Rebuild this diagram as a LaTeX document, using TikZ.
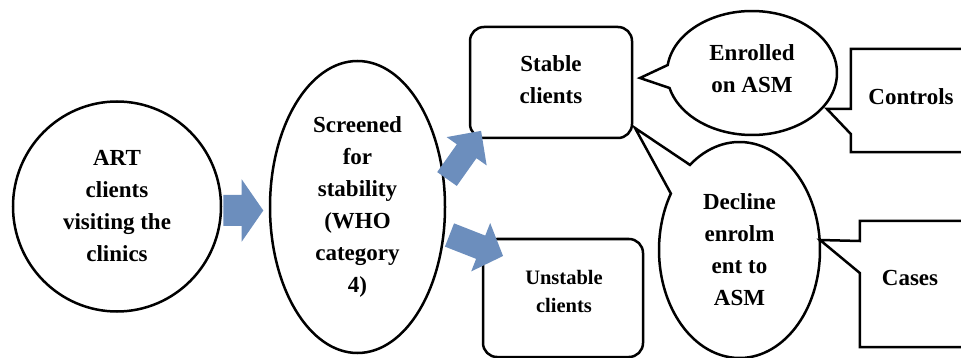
\documentclass[tikz,border=0pt]{standalone}
\usepackage{fontspec}
\setmainfont{Liberation Serif}
\usetikzlibrary{shapes.geometric,calc}
\definecolor{arrowfill}{RGB}{108,142,189}
\tikzset{
  txt/.style={font=\fontsize{23}{32}\selectfont\bfseries, align=center, inner sep=0pt},
  smalltxt/.style={font=\fontsize{20.5}{28}\selectfont\bfseries, align=center, inner sep=0pt},
  outl/.style={draw=black, line width=2.5pt, fill=white, line join=miter},
  ell/.style={outl, ellipse, inner sep=0pt},
  rbox/.style={outl, rectangle, rounded corners=14pt, inner sep=0pt},
  plainbox/.style={rectangle, inner sep=0pt},
}
% x, y, angle, length, shaft width, head length, head width
\newcommand{\blockarrow}[7]{%
  \fill[arrowfill, shift={(#1,#2)}, rotate=#3]
    (0,{-#5/2}) -- ({#4-#6},{-#5/2}) -- ({#4-#6},{-#7/2}) -- (#4,0)
    -- ({#4-#6},{#7/2}) -- ({#4-#6},{#5/2}) -- (0,{#5/2}) -- cycle;}
\begin{document}
\begin{tikzpicture}[x=1pt,y=-1pt]
\useasboundingbox (0,0) rectangle (961,358);

% ART circle
\node[ell, txt, minimum width=208pt, minimum height=210pt] (art) at (117,206.5)
  {ART\\clients\\visiting the\\clinics};

% Screened ellipse
\node[ell, txt, minimum width=175pt, minimum height=292pt] (scr) at (357.5,207)
  {Screened\\for\\stability\\(WHO\\category\\4)};

% Stable clients box
\node[rbox, minimum width=162pt, minimum height=111pt] (stable) at (551,82.5) {};
\node[txt] (stablet) at (551,80) {Stable\\clients};

% Unstable clients box
\node[rbox, minimum width=160pt, minimum height=118pt] (unstable) at (563,298) {};
\node[smalltxt] (unstablet) at (564,291) {Unstable\\clients};

% Enrolled on ASM bubble
\coordinate (enr) at (752,73);
\coordinate (enrtip) at (640,78);
\draw[outl] ($(enr)+(172.6:85pt and 62pt)$)
  arc[start angle=172.6, end angle=-166, x radius=85pt, y radius=62pt]
  -- (enrtip) -- cycle;
\node[txt] (enrt) at (752,69) {Enrolled\\on ASM};

% Decline bubble
\coordinate (dec) at (739.5,250);
\coordinate (dectip) at (635,128);
\draw[outl] ($(dec)+(128:80.5pt and 108pt)$)
  arc[start angle=128, end angle=-211.5, x radius=80.5pt, y radius=108pt]
  -- (dectip) -- cycle;
\node[txt] (dect) at (739.5,249.5) {Decline\\enrolm\\ent to\\ASM};

% Controls callout
\node[plainbox, minimum width=124pt, minimum height=103pt] (ctrl) at (913,100.5) {};
\coordinate (ctrltip) at (827,109);
\draw[outl] (ctrl.north west) -- (ctrl.north east) -- (ctrl.south east)
  -- (ctrl.south west) -- (ctrl.west |- 0,134) -- (ctrltip)
  -- (ctrl.west |- 0,109) -- cycle;
\node[txt] (ctrlt) at (911,97) {Controls};

% Cases callout
\node[plainbox, minimum width=108pt, minimum height=126pt] (cases) at (914,284) {};
\coordinate (casestip) at (820,240);
\draw[outl] (cases.north west) -- (cases.north east) -- (cases.south east)
  -- (cases.south west) -- (cases.west |- 0,273) -- (casestip)
  -- (cases.west |- 0,241) -- cycle;
\node[txt] (casest) at (910,278) {Cases};

% block arrows
\blockarrow{223.3}{210.5}{0}{40}{31}{21.6}{62.4}
\blockarrow{447}{179}{54.7}{59}{24}{25}{49}
\blockarrow{449.5}{235}{-21.4}{57.5}{25}{24}{52}
\end{tikzpicture}
\end{document}
